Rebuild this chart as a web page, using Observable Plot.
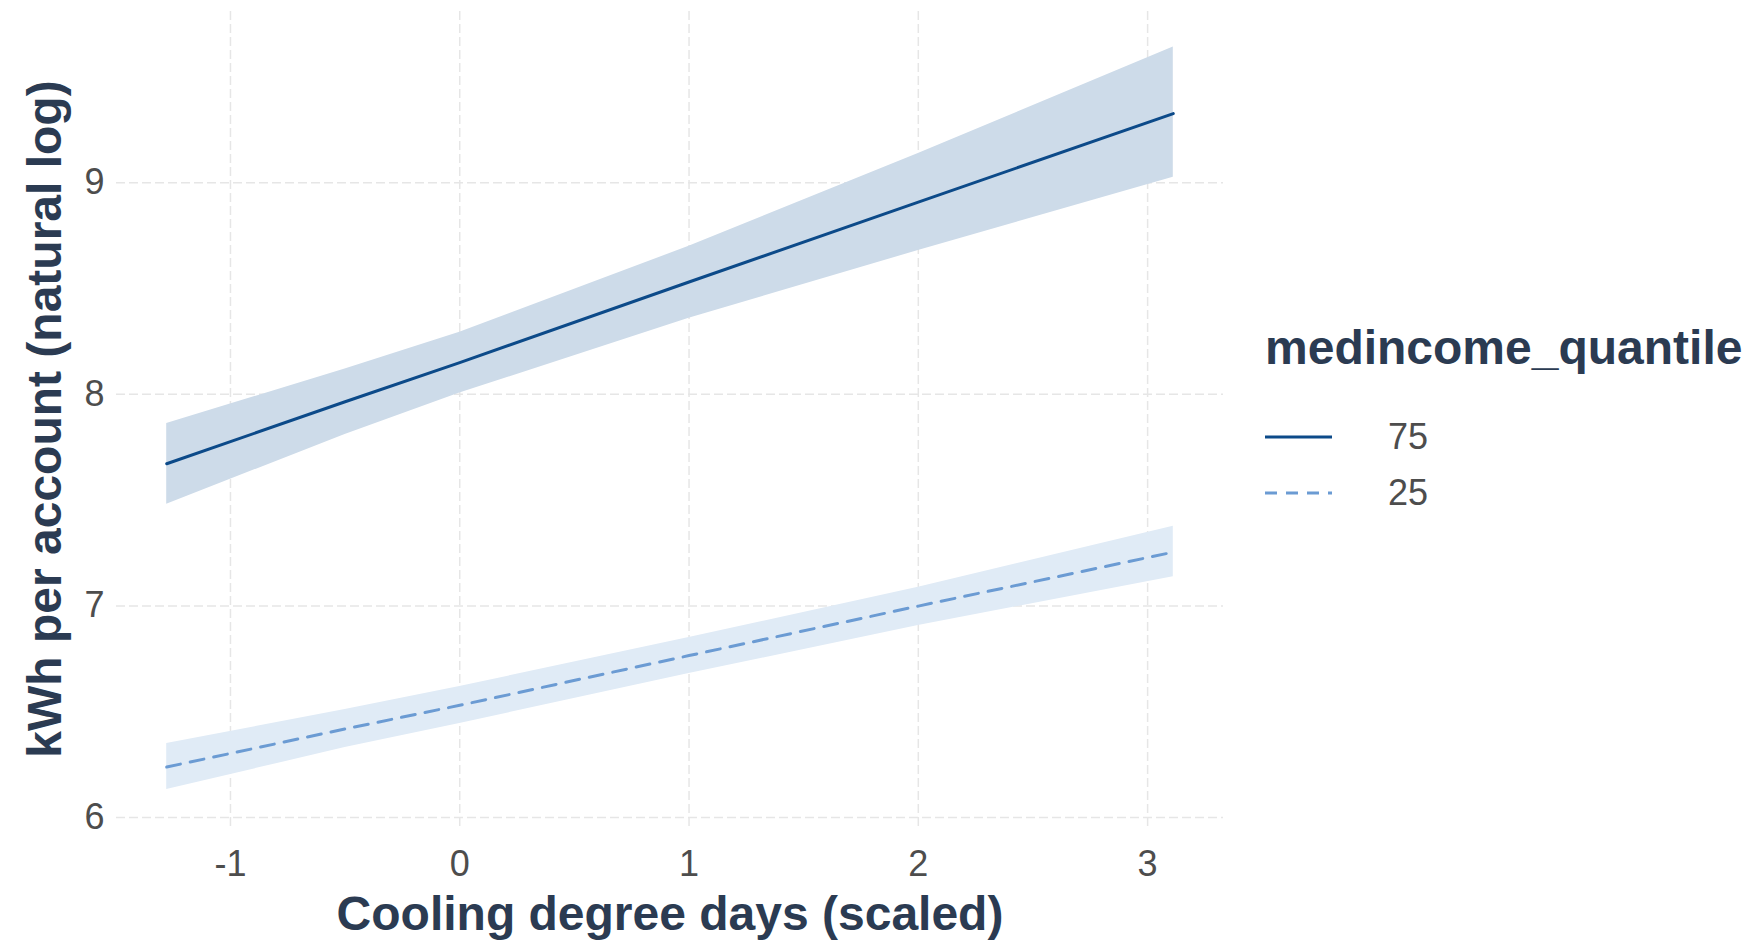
<!DOCTYPE html>
<html>
<head>
<meta charset="utf-8">
<script src="https://cdn.jsdelivr.net/npm/d3@7"></script>
<script src="https://cdn.jsdelivr.net/npm/@observablehq/plot@0.6"></script>
<style>
  html, body { margin: 0; padding: 0; background: #ffffff; }
  #wrap { position: relative; width: 1755px; height: 940px; overflow: hidden; }
  #legend { position: absolute; left: 1265px; top: 318px; font-family: "Liberation Sans", Arial, sans-serif; }
  #legend .title { font-size: 48px; font-weight: bold; color: #2b3b52; line-height: 60px; margin-bottom: 31px; }
  #legend .row { display: flex; align-items: center; height: 56px; }
  #legend .row span { font-size: 36px; color: #4d4d4d; margin-left: 56px; }
</style>
</head>
<body>
<div id="wrap"></div>
<script>
// Cooling degree days (scaled) at which the fitted values were read
const cdd = [-1.278, -0.5, 0, 1, 2, 3.112];
// medincome_quantile 75
const q75Fit = [7.672, 7.965, 8.150, 8.531, 8.909, 9.327];
const q75Lo  = [7.481, 7.810, 8.006, 8.360, 8.680, 9.026];
const q75Hi  = [7.862, 8.120, 8.294, 8.700, 9.139, 9.642];
// medincome_quantile 25
const q25Fit = [6.238, 6.418, 6.530, 6.765, 6.999, 7.254];
const q25Lo  = [6.132, 6.330, 6.444, 6.680, 6.907, 7.138];
const q25Hi  = [6.349, 6.510, 6.619, 6.850, 7.088, 7.376];

const quantiles = ["75", "25"];
const xTicks = [-1, 0, 1, 2, 3];
const yTicks = [6, 7, 8, 9];

const xLabel = "Cooling degree days (scaled)";
const yLabel = "kWh per account (natural log)";
const legendTitle = "medincome_quantile";

const colors = {"75": "#0c4a89", "25": "#6b9bd3"};
const fills = {"75": "#cddbe9", "25": "#e0ebf6"};
const dashes = {"75": null, "25": "14,10"};

const rows75 = cdd.map((x, i) => ({x, fit: q75Fit[i], lo: q75Lo[i], hi: q75Hi[i]}));
const rows25 = cdd.map((x, i) => ({x, fit: q25Fit[i], lo: q25Lo[i], hi: q25Hi[i]}));

const font = "'Liberation Sans', Arial, sans-serif";
const fmt = d => String(d);

const chart = Plot.plot({
  width: 1755,
  height: 940,
  marginLeft: 116,
  marginRight: 532,
  marginTop: 11,
  marginBottom: 114,
  style: {fontFamily: font, fontSize: "36px", color: "#4d4d4d", background: "#ffffff", overflow: "visible"},
  x: {domain: [-1.497, 3.331]},
  y: {domain: [5.957, 9.81]},
  marks: [
    Plot.gridX(xTicks, {stroke: "#e6e6e6", strokeOpacity: 1, strokeWidth: 1.5, strokeDasharray: "9,4"}),
    Plot.gridY(yTicks, {stroke: "#e6e6e6", strokeOpacity: 1, strokeWidth: 1.5, strokeDasharray: "9,4"}),
    Plot.areaY(rows75, {x: "x", y1: "lo", y2: "hi", fill: fills["75"]}),
    Plot.areaY(rows25, {x: "x", y1: "lo", y2: "hi", fill: fills["25"]}),
    Plot.lineY(rows75, {x: "x", y: "fit", stroke: colors["75"], strokeWidth: 3}),
    Plot.lineY(rows25, {x: "x", y: "fit", stroke: colors["25"], strokeWidth: 3, strokeDasharray: dashes["25"]}),
    Plot.axisX(xTicks, {tickSize: 0, tickPadding: 24, fontSize: 36, fill: "#4d4d4d", label: null, tickFormat: fmt}),
    Plot.axisY(yTicks, {tickSize: 0, tickPadding: 12, fontSize: 36, fill: "#4d4d4d", label: null, tickFormat: fmt}),
    Plot.text([xLabel], {frameAnchor: "bottom", dy: 88, lineAnchor: "middle", fontSize: 48, fontWeight: "bold", fill: "#2b3b52", text: d => d}),
    Plot.text([yLabel], {frameAnchor: "left", textAnchor: "middle", dx: -71, lineAnchor: "middle", rotate: -90, fontSize: 48, fontWeight: "bold", fill: "#2b3b52", text: d => d})
  ]
});

const wrap = document.getElementById("wrap");
wrap.appendChild(chart);

// legend
const legend = document.createElement("div");
legend.id = "legend";
const t = document.createElement("div");
t.className = "title";
t.textContent = legendTitle;
legend.appendChild(t);
for (const q of quantiles) {
  const row = document.createElement("div");
  row.className = "row";
  const ns = "http://www.w3.org/2000/svg";
  const svg = document.createElementNS(ns, "svg");
  svg.setAttribute("width", "67");
  svg.setAttribute("height", "20");
  const line = document.createElementNS(ns, "line");
  line.setAttribute("x1", "0"); line.setAttribute("x2", "67");
  line.setAttribute("y1", "10"); line.setAttribute("y2", "10");
  line.setAttribute("stroke", colors[q]);
  line.setAttribute("stroke-width", "3");
  if (dashes[q]) line.setAttribute("stroke-dasharray", "12,9");
  svg.appendChild(line);
  row.appendChild(svg);
  const s = document.createElement("span");
  s.textContent = q;
  row.appendChild(s);
  legend.appendChild(row);
}
wrap.appendChild(legend);
</script>
</body>
</html>
